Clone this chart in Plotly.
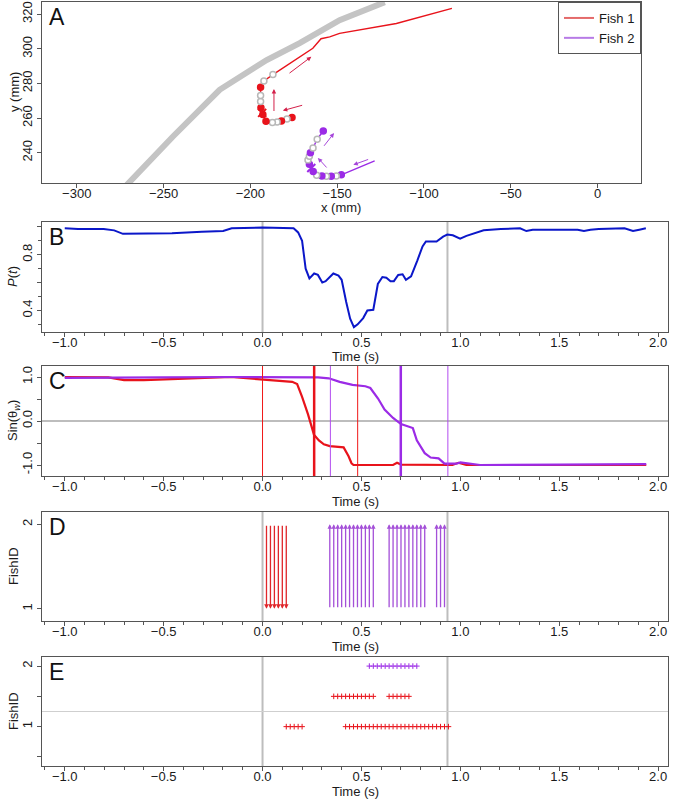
import plotly.graph_objects as go

# ================= DATA =================
# Panel A: tank wall (mm)
wall_x = [-272.0, -244.7, -217.7, -190.6, -171.6, -148.6, -122.6]
wall_y = [220.5, 249.2, 276.3, 293.5, 303.3, 316.5, 326.9]

# Fish 1 trajectory (first 13 points carry dots)
f1_x = [-176.0, -178.9, -182.1, -184.6, -187.3, -191.0, -192.8, -193.9, -194.1, -194.1, -194.1, -192.2, -187.0,
        -164.0, -159.3, -154.3, -148.6, -115.9, -83.9]
f1_y = [260.3, 259.4, 258.3, 257.7, 257.4, 258.2, 262.0, 266.0, 269.5, 273.0, 277.8, 281.4, 285.1,
        300.3, 305.8, 306.9, 308.9, 314.6, 323.3]
f1_dot_state = [1, 0, 1, 0, 0, 1, 1, 1, 0, 0, 1, 0, 0]
f1_cross = [-193.2, 263.0]

# Fish 2 trajectory (points after the first carry dots)
f2_x = [-128.4, -147.6, -150.5, -153.4, -156.2, -158.8, -161.8, -163.8, -166.0, -166.8, -166.0, -165.4, -163.9, -161.5, -158.0]
f2_y = [235.3, 227.2, 226.6, 226.4, 226.4, 226.5, 227.0, 229.2, 233.3, 235.8, 237.9, 240.0, 242.7, 247.8, 252.5]
f2_dot_state = [1, 0, 1, 0, 1, 0, 1, 1, 0, 0, 1, 0, 0, 1]
f2_cross = [-164.9, 231.2]

# heading arrows (tail x, tail y, head x, head y)
f1_arrows = [[-169.3, 267.6, -181.3, 264.3], [-186.4, 263.2, -186.4, 276.7], [-178.3, 285.3, -164.9, 295.4]]
f2_arrows = [[-131.3, 236.4, -140.7, 233.0], [-155.3, 230.6, -161.1, 237.0], [-158.2, 243.1, -151.8, 251.3]]

# Panel B: polarisation P(t)
b_t = [-1.0, -0.933, -0.803, -0.75, -0.706, -0.674, -0.458, -0.307, -0.199, -0.156, 0.0, 0.157, 0.18, 0.2,
       0.218, 0.237, 0.261, 0.28, 0.302, 0.319, 0.358, 0.384, 0.4, 0.423, 0.443, 0.462, 0.481, 0.509, 0.53,
       0.56, 0.583, 0.606, 0.626, 0.647, 0.664, 0.686, 0.708, 0.725, 0.751, 0.783, 0.809, 0.826, 0.88, 0.913,
       0.934, 0.962, 0.999, 1.031, 1.064, 1.118, 1.205, 1.27, 1.302, 1.334, 1.366, 1.593, 1.625, 1.658, 1.7,
       1.83, 1.873, 1.905, 1.938]
b_p = [0.99, 0.985, 0.985, 0.975, 0.95, 0.95, 0.955, 0.965, 0.97, 0.99, 0.995, 0.99, 0.96, 0.9,
       0.7, 0.63, 0.665, 0.655, 0.6, 0.61, 0.665, 0.65, 0.62, 0.46, 0.34, 0.28, 0.3, 0.345, 0.4,
       0.405, 0.59, 0.64, 0.635, 0.61, 0.61, 0.655, 0.66, 0.62, 0.645, 0.76, 0.86, 0.895, 0.895, 0.93,
       0.945, 0.94, 0.915, 0.935, 0.95, 0.975, 0.985, 0.99, 0.99, 0.97, 0.98, 0.98, 0.97, 0.98, 0.985,
       0.99, 0.97, 0.98, 0.99]
ref_times = [0.0, 0.935]

# Panel C: sin(theta_w)
c1_t = [-1.0, -0.9, -0.78, -0.7, -0.6, -0.46, -0.3, -0.16, -0.05, 0.0, 0.1, 0.15, 0.175, 0.2, 0.23, 0.245,
        0.26, 0.285, 0.31, 0.34, 0.39, 0.41, 0.435, 0.45, 0.46, 0.66, 0.68, 0.7, 0.96, 0.99, 1.03, 1.94]
c1_s = [1.0, 0.99, 0.99, 0.93, 0.93, 0.95, 0.97, 1.0, 0.96, 0.94, 0.91, 0.89, 0.84, 0.55, 0.15, -0.1,
        -0.31, -0.44, -0.53, -0.57, -0.6, -0.6, -0.8, -0.96, -1.0, -1.0, -0.95, -0.99, -1.0, -0.95, -1.0, -1.0]
c2_t = [-1.0, -0.8, -0.5, -0.15, 0.0, 0.28, 0.335, 0.39, 0.455, 0.52, 0.545, 0.584, 0.617, 0.66, 0.7, 0.73,
        0.76, 0.78, 0.82, 0.85, 0.89, 0.92, 0.98, 1.0, 1.03, 1.1, 1.5, 1.94]
c2_s = [0.98, 0.98, 0.99, 1.0, 1.0, 0.99, 0.97, 0.89, 0.82, 0.79, 0.75, 0.51, 0.26, 0.07, -0.07, -0.12,
        -0.16, -0.44, -0.73, -0.83, -0.85, -0.97, -0.97, -0.94, -0.96, -1.0, -0.99, -0.98]
f1_turn_window = [0.0, 0.481]
f1_turn_mid = 0.261
f2_turn_window = [0.343, 0.937]
f2_turn_mid = 0.699

# Panel D: influence arrows
d_f1_t = [0.02, 0.04, 0.06, 0.08, 0.10, 0.12]
d_f2_t = [0.34, 0.36, 0.38, 0.40, 0.42, 0.44, 0.46, 0.48, 0.50, 0.52, 0.54, 0.56,
          0.64, 0.66, 0.68, 0.70, 0.72, 0.74, 0.76, 0.78, 0.80, 0.82,
          0.88, 0.90, 0.92]

# Panel E: event markers
e_row1_t = [0.12, 0.14, 0.16, 0.18, 0.20,
            0.42, 0.44, 0.46, 0.48, 0.50, 0.52, 0.54, 0.56, 0.58, 0.60, 0.62, 0.64, 0.66, 0.68, 0.70,
            0.72, 0.74, 0.76, 0.78, 0.80, 0.82, 0.84, 0.86, 0.88, 0.90, 0.92, 0.94]
e_row15_t = [0.36, 0.38, 0.40, 0.42, 0.44, 0.46, 0.48, 0.50, 0.52, 0.54, 0.56,
             0.64, 0.66, 0.68, 0.70, 0.72, 0.74]
e_row2_t = [0.54, 0.56, 0.58, 0.60, 0.62, 0.64, 0.66, 0.68, 0.70, 0.72, 0.74, 0.76, 0.78]
e_row_split = 1.25

# ================= STYLE =================
RED = "#E8131B"
PURPLE = "#9B2BE6"
GRAY = "#BDBDBD"
AX = "#555555"
TXT = "#1a1a1a"
FONT = "Liberation Sans, Arial, sans-serif"
W, H = 673, 800


def dx(a, b):
    return [a / W, b / W]


def dy(a, b):
    return [1 - b / H, 1 - a / H]


fig = go.Figure()

# ---- Panel A ----
fig.add_trace(go.Scatter(x=wall_x, y=wall_y, mode="lines", line=dict(color="#C4C4C4", width=6),
                         showlegend=False, hoverinfo="skip", xaxis="x", yaxis="y"))
for (px, py, st, col, start) in [(f1_x, f1_y, f1_dot_state, RED, 0), (f2_x, f2_y, f2_dot_state, PURPLE, 1)]:
    fig.add_trace(go.Scatter(x=px, y=py, mode="lines", line=dict(color=col, width=1.4),
                             showlegend=False, xaxis="x", yaxis="y"))
    n = len(st)
    xs = px[start:start + n]
    ys = py[start:start + n]
    fig.add_trace(go.Scatter(
        x=xs, y=ys, mode="markers", showlegend=False, xaxis="x", yaxis="y",
        marker=dict(size=6, symbol="circle",
                    color=[col if s else "white" for s in st],
                    line=dict(color=[col if s else "#B8B8B8" for s in st], width=1.5))))
for (c, col) in [(f1_cross, RED), (f2_cross, PURPLE)]:
    fig.add_trace(go.Scatter(x=[c[0]], y=[c[1]], mode="markers", showlegend=False, xaxis="x", yaxis="y",
                             marker=dict(symbol="x-thin", size=8, line=dict(color=col, width=2))))
# legend entries
fig.add_trace(go.Scatter(x=[None], y=[None], mode="lines", name="Fish 1", line=dict(color="#E46A6A", width=2),
                         xaxis="x", yaxis="y"))
fig.add_trace(go.Scatter(x=[None], y=[None], mode="lines", name="Fish 2", line=dict(color="#B77BE6", width=2),
                         xaxis="x", yaxis="y"))

annotations = []
for arrs, col in [(f1_arrows, "#D4204A"), (f2_arrows, "#A646DA")]:
    for a in arrs:
        annotations.append(dict(x=a[2], y=a[3], ax=a[0], ay=a[1], xref="x", yref="y", axref="x", ayref="y",
                                showarrow=True, arrowhead=2, arrowsize=0.9, arrowwidth=1, arrowcolor=col,
                                text="", standoff=0))

# ---- Panel B ----
fig.add_trace(go.Scatter(x=b_t, y=b_p, mode="lines", line=dict(color="#0B17C9", width=2),
                         showlegend=False, xaxis="x2", yaxis="y2"))

# ---- Panel C ----
fig.add_trace(go.Scatter(x=c1_t, y=c1_s, mode="lines", line=dict(color=RED, width=2.2),
                         showlegend=False, xaxis="x3", yaxis="y3"))
fig.add_trace(go.Scatter(x=c2_t, y=c2_s, mode="lines", line=dict(color=PURPLE, width=2.2),
                         showlegend=False, xaxis="x3", yaxis="y3"))

# ---- Panel D ----
for t in d_f1_t:
    annotations.append(dict(x=t, y=1.0, ax=t, ay=2.0, xref="x4", yref="y4", axref="x4", ayref="y4",
                            showarrow=True, arrowhead=2, arrowsize=0.7, arrowwidth=1.3, arrowcolor="#E0262A",
                            text="", standoff=0))
for t in d_f2_t:
    annotations.append(dict(x=t, y=2.0, ax=t, ay=1.0, xref="x4", yref="y4", axref="x4", ayref="y4",
                            showarrow=True, arrowhead=2, arrowsize=0.7, arrowwidth=1.3, arrowcolor="#A450D8",
                            text="", standoff=0))
fig.add_trace(go.Scatter(x=[None], y=[None], showlegend=False, xaxis="x4", yaxis="y4"))

# ---- Panel E ----
mk = dict(symbol="cross-thin", size=4)
fig.add_trace(go.Scatter(x=e_row1_t, y=[1] * len(e_row1_t), mode="markers", showlegend=False,
                         marker=dict(**mk, line=dict(color=RED, width=1)), xaxis="x5", yaxis="y5"))
fig.add_trace(go.Scatter(x=e_row15_t, y=[1.5] * len(e_row15_t), mode="markers", showlegend=False,
                         marker=dict(**mk, line=dict(color=RED, width=1)), xaxis="x5", yaxis="y5"))
fig.add_trace(go.Scatter(x=e_row2_t, y=[2] * len(e_row2_t), mode="markers", showlegend=False,
                         marker=dict(**mk, line=dict(color=PURPLE, width=1)), xaxis="x5", yaxis="y5"))

# ---- shapes ----
shapes = []
for k in ["2", "4", "5"]:
    for t in ref_times:
        shapes.append(dict(type="line", xref="x" + k, yref="y" + k + " domain", x0=t, x1=t, y0=0, y1=1,
                           line=dict(color=GRAY, width=2), layer="below"))
shapes.append(dict(type="line", xref="x3 domain", yref="y3", x0=0, x1=1, y0=0, y1=0,
                   line=dict(color=GRAY, width=2), layer="below"))
shapes.append(dict(type="line", xref="x5 domain", yref="y5", x0=0, x1=1, y0=e_row_split, y1=e_row_split,
                   line=dict(color="#CFCFCF", width=1.2), layer="below"))
for t in f1_turn_window:
    shapes.append(dict(type="line", xref="x3", yref="y3 domain", x0=t, x1=t, y0=0, y1=1,
                       line=dict(color="#F01818", width=1)))
shapes.append(dict(type="line", xref="x3", yref="y3 domain", x0=f1_turn_mid, x1=f1_turn_mid, y0=0, y1=1,
                   line=dict(color="#E8131B", width=2.5)))
for t in f2_turn_window:
    shapes.append(dict(type="line", xref="x3", yref="y3 domain", x0=t, x1=t, y0=0, y1=1,
                       line=dict(color="#B24CF0", width=1)))
shapes.append(dict(type="line", xref="x3", yref="y3 domain", x0=f2_turn_mid, x1=f2_turn_mid, y0=0, y1=1,
                   line=dict(color="#9B2BE6", width=2.5)))

# panel letters
for k, L in zip(["", "2", "3", "4", "5"], "ABCDE"):
    annotations.append(dict(text=L, xref="x" + k + " domain" if k else "x domain",
                            yref="y" + k + " domain" if k else "y domain",
                            x=0.008, y=1.0, xanchor="left", yanchor="top", showarrow=False,
                            font=dict(size=23, color="#111", family=FONT)))

# axis titles (placed in pixel terms of the page)
xtitles = [("x (mm)", 341, 207), ("Time (s)", 355, 356), ("Time (s)", 355, 501),
           ("Time (s)", 355, 646), ("Time (s)", 355, 791)]
ytitles = [("y (mm)", 14, 92), ("<i>P</i>(<i>t</i>)", 13, 277), ("Sin(θ<sub><i>w</i></sub>)", 13, 421),
           ("FishID", 13, 566), ("FishID", 13, 711)]
for txt, px, py in xtitles:
    annotations.append(dict(text=txt, xref="paper", yref="paper", x=px / W, y=1 - py / H, xanchor="center",
                            yanchor="middle", showarrow=False, font=dict(size=13, color=TXT, family=FONT)))
for txt, px, py in ytitles:
    annotations.append(dict(text=txt, xref="paper", yref="paper", x=px / W, y=1 - py / H, xanchor="center",
                            yanchor="middle", textangle=-90, showarrow=False,
                            font=dict(size=13, color=TXT, family=FONT)))

# ---- axes ----
tickfont = dict(size=13, color=TXT, family=FONT)


def xax(dom, anchor, rng, **kw):
    d = dict(domain=dom, anchor=anchor, range=rng, showgrid=False, zeroline=False, showline=True, mirror=True,
             linecolor=AX, linewidth=1.2, ticks="outside", ticklen=4, tickcolor=AX, tickwidth=1,
             automargin=False, tickfont=tickfont, ticklabelstandoff=-6)
    d.update(kw)
    return d


def yax(dom, anchor, rng, **kw):
    d = dict(domain=dom, anchor=anchor, range=rng, showgrid=False, zeroline=False, showline=True, mirror=True,
             linecolor=AX, linewidth=1.2, ticks="outside", ticklen=4, tickcolor=AX, tickwidth=1,
             automargin=False, tickangle=-90, tickfont=tickfont)
    d.update(kw)
    return d


time_kw = dict(tickmode="linear", tick0=-1.0, dtick=0.5, tickformat=".1f",
               minor=dict(tick0=-1.0, dtick=0.1, ticks="outside", ticklen=3, tickcolor=AX))
TR = [-1.115, 2.05]
XD = dx(42, 668)

fig.update_layout(
    width=W, height=H, margin=dict(l=0, r=0, t=0, b=0, autoexpand=False),
    paper_bgcolor="white", plot_bgcolor="white",
    font=dict(family=FONT, size=13, color=TXT),
    xaxis=xax(dx(42, 641), "y", [-320, 25], tickvals=[-300, -250, -200, -150, -100, -50, 0]),
    yaxis=yax(dy(2, 183), "x", [222.5, 327], tickvals=[240, 260, 280, 300, 320]),
    xaxis2=xax(XD, "y2", TR, **time_kw),
    yaxis2=yax(dy(222, 332), "x2", [0.245, 1.035],
               tickvals=[0.4, 0.6, 0.8, 1.0], ticktext=["0.4", "", "0.8", ""],
               minor=dict(tick0=0.3, dtick=0.1, ticks="outside", ticklen=3, tickcolor=AX)),
    xaxis3=xax(XD, "y3", TR, **time_kw),
    yaxis3=yax(dy(366, 476), "x3", [-1.25, 1.25],
               tickvals=[-1, -0.5, 0, 0.5, 1], ticktext=["-1.0", "", "0.0", "", "1.0"]),
    xaxis4=xax(XD, "y4", TR, **time_kw),
    yaxis4=yax(dy(512, 621), "x4", [0.855, 2.145], tickvals=[1, 2], ticktext=["1", "2"]),
    xaxis5=xax(XD, "y5", TR, **time_kw),
    yaxis5=yax(dy(657, 766), "x5", [0.35, 2.15], tickvals=[0.5, 1, 1.5, 2],
               ticktext=["", "1", "", "2"]),
    shapes=shapes, annotations=annotations,
    legend=dict(x=641 / W, y=1 - 2 / H, xanchor="right", yanchor="top", bordercolor=AX, borderwidth=1,
                bgcolor="white", font=dict(size=13, family=FONT, color=TXT), itemwidth=30,
                tracegroupgap=0),
)

fig.write_html("out.html", config={"displayModeBar": False},
               post_script="document.body.style.margin='0';document.body.style.padding='0';"
                           "document.documentElement.style.overflow='hidden';")
